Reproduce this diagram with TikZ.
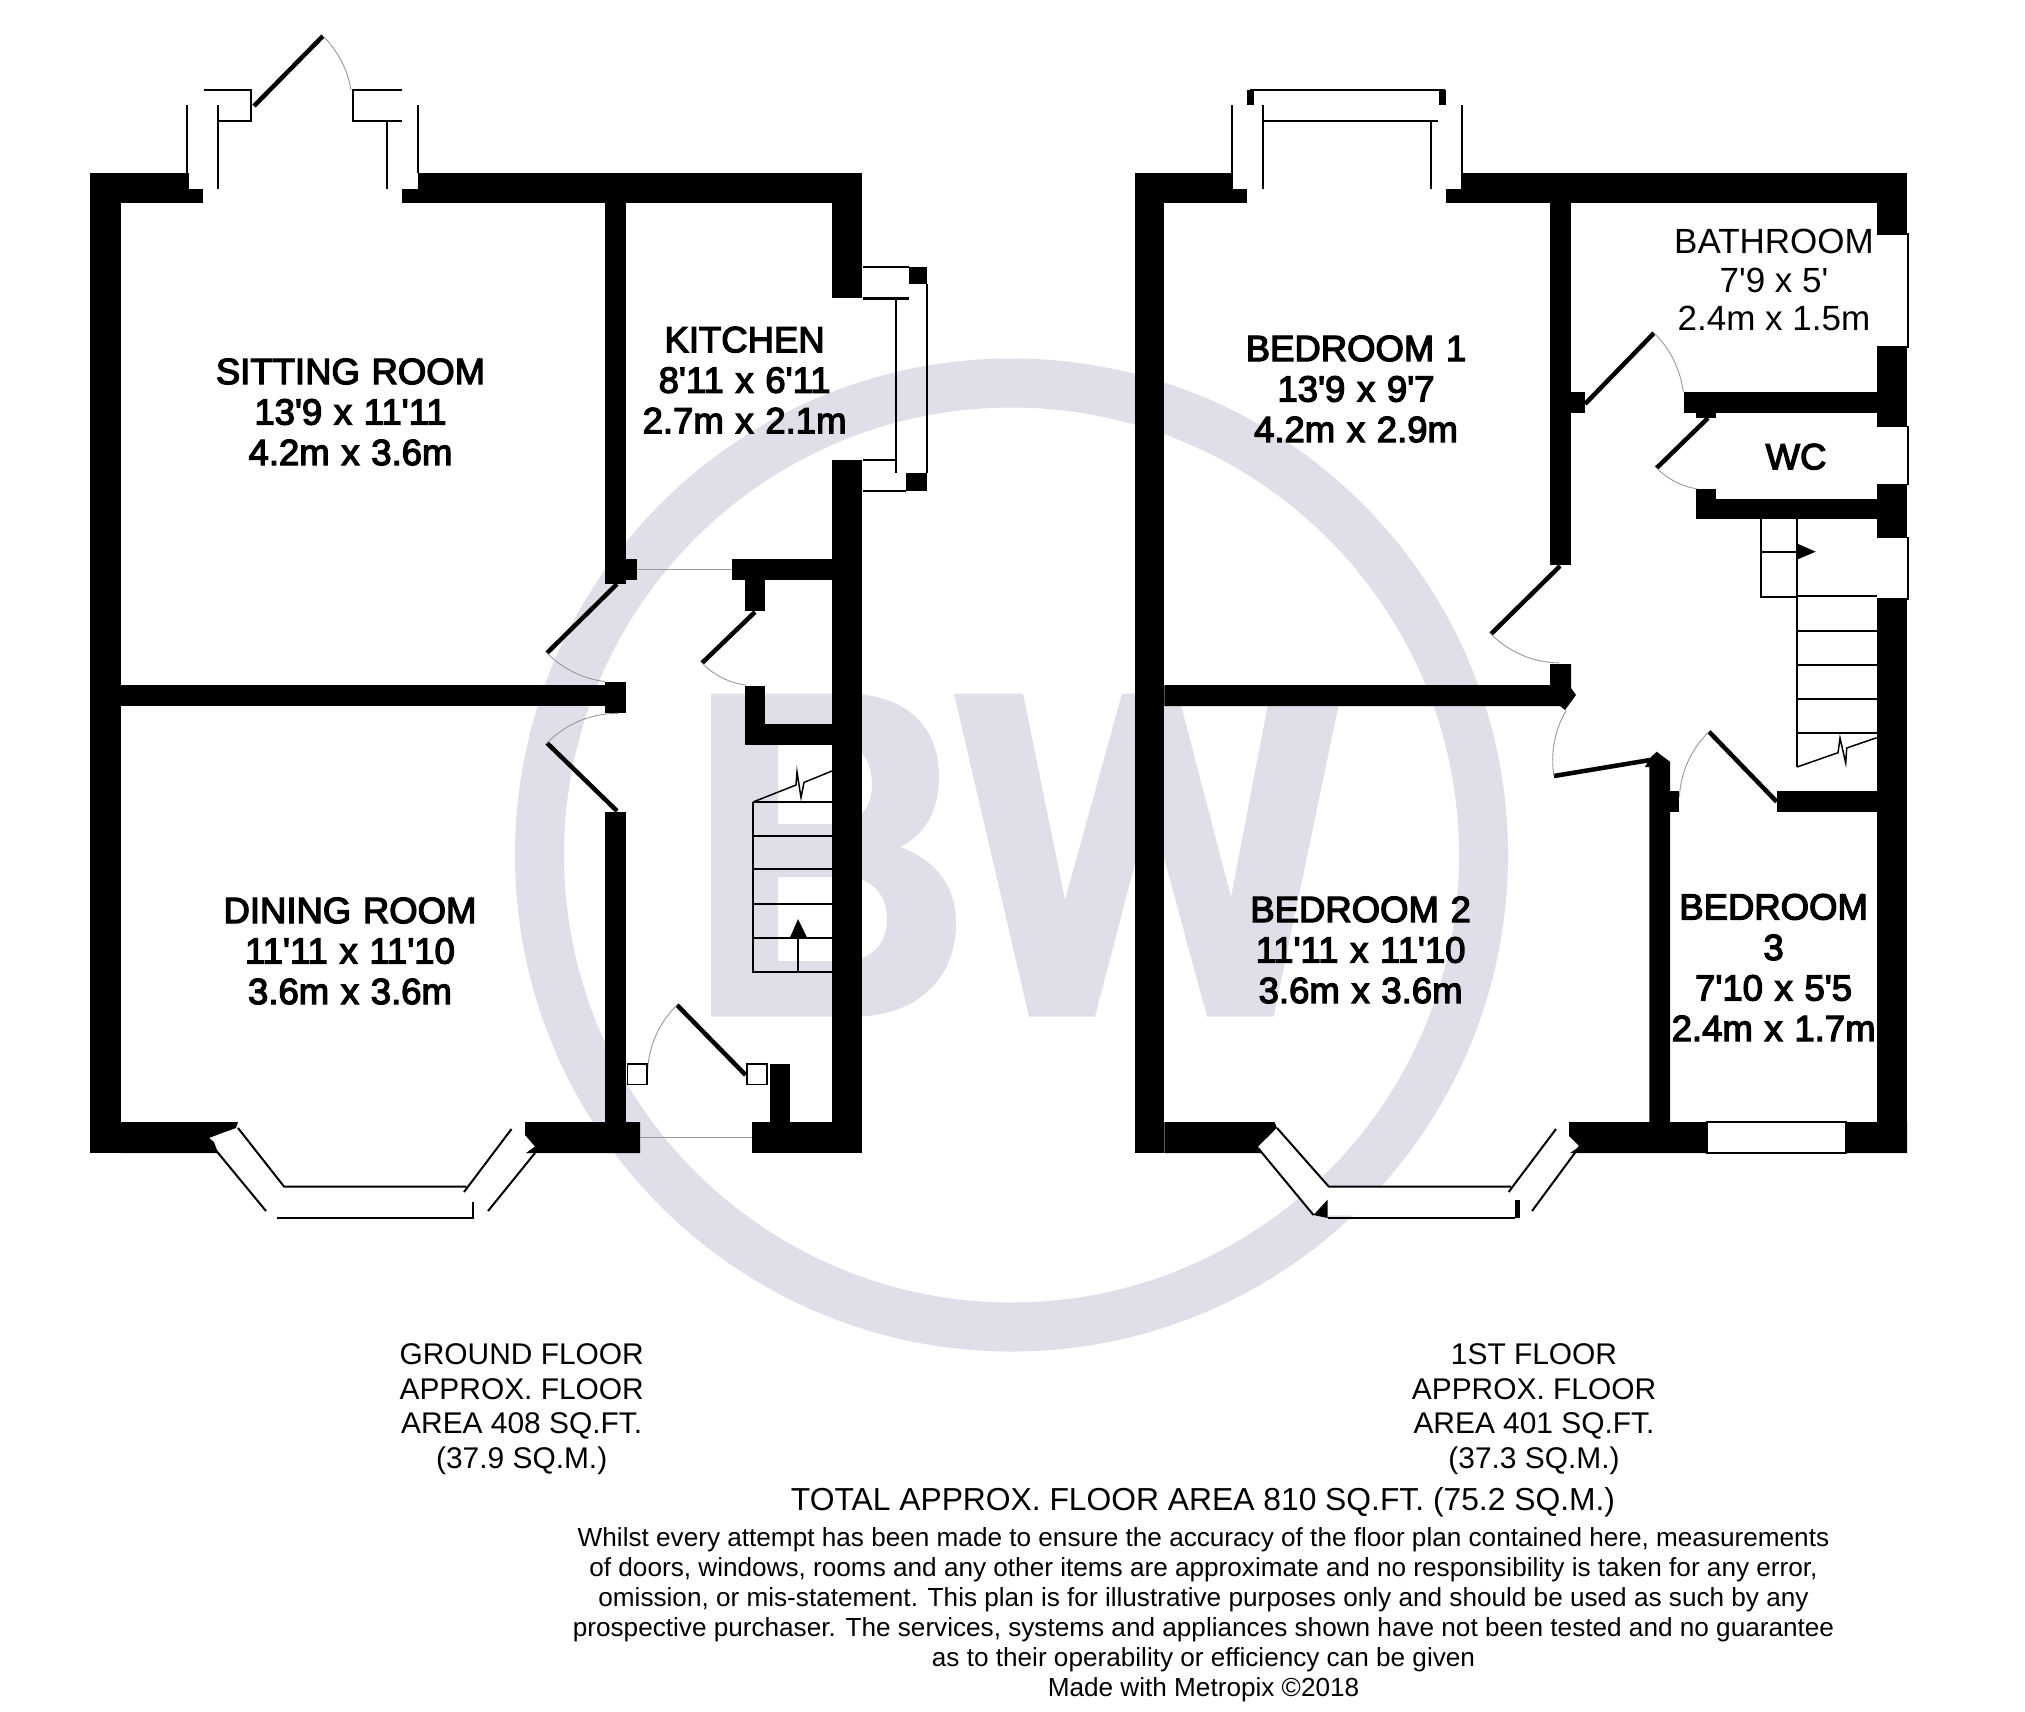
\documentclass[tikz,border=0pt]{standalone}
\usepackage{fontspec}
\usepackage{xcolor}
\usepackage{tikz}
\newfontfamily\planfont{Liberation Sans}
\newfontfamily\roomfont[FakeBold=3.5,WordSpace=1.15]{Liberation Sans}
\definecolor{markgrey}{HTML}{DEDFE9}
\definecolor{swinggrey}{HTML}{999999}
\tikzset{
	wall/.style={fill=black},
	leaf/.style={draw=black, line width=4.5pt},
	swing/.style={draw=swinggrey, line width=.9pt},
	thinline/.style={draw=black, line width=2pt},
	pane/.style={fill=white},
	room/.style={font=\roomfont\fontsize{36.5}{40.5}\selectfont, align=center, inner sep=0pt},
	plainroom/.style={font=\planfont\fontsize{35}{38.5}\selectfont, align=center, inner sep=0pt},
	floorlabel/.style={font=\planfont\fontsize{29.9}{34.7}\selectfont, align=center, inner sep=0pt},
	totallabel/.style={font=\planfont\fontsize{31.8}{34.7}\selectfont, align=center, inner sep=0pt},
	smallprint/.style={font=\planfont\fontsize{26.15}{29.9}\selectfont, align=center, inner sep=0pt}
}
\begin{document}
\begin{tikzpicture}[x=1pt, y=-1pt]
	\useasboundingbox (0,0) rectangle (2025,1711);
	\fill[white] (0,0) rectangle (2025,1711);
	% watermark
	\draw[markgrey, line width=49pt] (1011.5,855) circle (472);
	\fill[markgrey, even odd rule] (711,693.6) -- (845,693.6) .. controls (905,693.6) and (939,725) .. (939,777) .. controls (939,810) and (925,835) .. (900,847) .. controls (935,860) and (956,885) .. (956,923) .. controls (956,980) and (915,1016.5) .. (855,1016.5) -- (711,1016.5) -- cycle
		(778,745) -- (840,745) .. controls (862,745) and (872,762) .. (872,785) .. controls (872,808) and (858,824) .. (835,824) -- (778,824) -- cycle
		(778,877) -- (845,877) .. controls (872,877) and (887,895) .. (887,919) .. controls (887,945) and (870,961) .. (845,961) -- (778,961) -- cycle;
	\fill[markgrey] (954,693.6) -- (1023,693.6) -- (1065,900) -- (1122,693.6) -- (1178,693.6) -- (1231,897) -- (1270,693.6) -- (1341,693.6) -- (1273.6,1016.5) -- (1207,1016.5) -- (1150,806) -- (1095,1016.5) -- (1029,1016.5) -- cycle;

	% ground floor walls
	\fill[wall] (90,173) rectangle (189,203);
	\fill[wall] (189,189) rectangle (203,203);
	\fill[wall] (90,173) rectangle (121,1153);
	\fill[wall] (418,173) rectangle (862,203);
	\fill[wall] (402,189) rectangle (418,203);
	\fill[wall] (605,203) rectangle (626,584);
	\fill[wall] (626,559) rectangle (637,580);
	\fill[wall] (832,203) rectangle (862,298);
	\fill[wall] (832,460) rectangle (862,1153);
	\fill[wall] (732,559) rectangle (832,580);
	\fill[wall] (745,580) rectangle (765,611);
	\fill[wall] (121,685) rectangle (605,706);
	\fill[wall] (605,682) rectangle (626,713);
	\fill[wall] (605,812) rectangle (626,1122);
	\fill[wall] (745,686) rectangle (765,744.5);
	\fill[wall] (765,724) rectangle (832,744.5);
	\fill[wall] (752,1122) rectangle (862,1153);
	\fill[wall] (770,1064) rectangle (790,1122);
	\fill[wall] (121,1122) -- (238,1122) -- (236,1128) -- (222,1133) -- (209,1138) -- (214,1142) -- (218,1153) -- (121,1153) -- cycle;
	\fill[wall] (525,1122) -- (525,1135) -- (535,1146.5) -- (526,1153) -- (640,1153) -- (640,1122) -- cycle;

	% ground floor bay to the garden
	\draw[thinline] (187,105) -- (187,173);
	\draw[thinline] (218,105) -- (218,189);
	\draw[thinline] (204,90) -- (251,90) -- (251,121) -- (218,121);
	\draw[leaf] (254,106) -- (323,36);
	\draw[swing] (323,36) arc[start angle=-45.4, end angle=-9.3, radius=98.5];
	\draw[thinline] (402,90) -- (353,90) -- (353,121) -- (402,121);
	\draw[thinline] (387,121) -- (387,189);
	\draw[thinline] (418,105) -- (418,173);

	% kitchen window
	\draw[thinline] (863,267.3) -- (909,267.3);
	\draw[line width=3pt] (863,298) -- (909,298);
	\fill[wall] (909,267.3) rectangle (926.7,284);
	\draw[thinline] (896,298) -- (896,473);
	\draw[thinline] (926.7,284) -- (926.7,473);
	\draw[thinline] (863,460) -- (896,460);
	\draw[thinline] (863,490.7) -- (906,490.7);
	\fill[wall] (906,473) rectangle (926.7,490.7);

	% ground floor doors
	\draw[leaf] (617,584) -- (547,653);
	\draw[swing] (547,653) arc[start angle=135.4, end angle=97, radius=98.3];
	\draw[leaf] (617,811) -- (547,743);
	\draw[swing] (547,743) arc[start angle=-135.8, end angle=-89.4, radius=97.8];
	\draw[leaf] (755,612) -- (702,663);
	\draw[swing] (702,663) arc[start angle=136.1, end angle=97.2, radius=74];
	\draw[leaf] (745.6,1075) -- (677,1005);
	\draw[swing] (677,1005) arc[start angle=-134.4, end angle=-178.8, radius=98.3];
	\draw[swing] (637,569) -- (732,569);
	\draw[swing] (640,1137) -- (752,1137);
	\filldraw[fill=white, draw=black, line width=1.6pt] (627.5,1064) rectangle (647,1084.5);
	\filldraw[fill=white, draw=black, line width=1.6pt] (747,1064) rectangle (767,1084.5);

	% ground floor stairs
	\draw[thinline] (753,802) -- (753,972) -- (832,972);
	\draw[thinline] (753,802) -- (832,802);
	\draw[thinline] (753,835.5) -- (832,835.5);
	\draw[thinline] (753,869) -- (832,869);
	\draw[thinline] (753,903.7) -- (832,903.7);
	\draw[thinline] (753,937.5) -- (832,937.5);
	\draw[thinline] (798,937.5) -- (798,972);
	\fill[black] (798,919) -- (807,937.5) -- (790,937.5) -- cycle;
	\draw[black, line width=1.5pt] (753,802) -- (796,785) -- (797,772) -- (801,797.5) -- (804,782.4) -- (832,771);

	% ground floor front bay
	\draw[thinline] (214.5,1148.6) -- (266,1211);
	\draw[thinline] (238,1128) -- (284,1186.5) -- (466.5,1186.5);
	\draw[thinline] (277,1218) -- (473,1218) -- (473,1201.6);
	\draw[thinline] (464,1192) -- (511.5,1129);
	\draw[thinline] (488,1211) -- (535,1153);

	% first floor walls
	\fill[wall] (1134.6,173) rectangle (1232,203);
	\fill[wall] (1232,189) rectangle (1247,203);
	\fill[wall] (1134.6,173) rectangle (1164.4,1153);
	\fill[wall] (1461.5,173) rectangle (1907,203);
	\fill[wall] (1446,189) rectangle (1461.5,203);
	\fill[wall] (1876.6,173) rectangle (1907,1153);
	\fill[wall] (1550,203) rectangle (1571,565);
	\fill[wall] (1571,392) rectangle (1585,412.6);
	\fill[wall] (1683.7,392) rectangle (1876.6,412.6);
	\fill[wall] (1696,412.6) rectangle (1716,418);
	\fill[wall] (1696,499) rectangle (1876.6,519);
	\fill[wall] (1696,489) rectangle (1716,499);
	\fill[wall] (1164.4,685) -- (1550,685) -- (1550,664) -- (1571,664) -- (1571,688) -- (1576,695) -- (1565,710) -- (1560,706) -- (1164.4,706) -- cycle;
	\fill[wall] (1649.3,1122) -- (1649.3,767) -- (1645,767) -- (1650,758) -- (1656.7,751.7) -- (1665,758) -- (1670,761.7) -- (1670,1122) -- cycle;
	\fill[wall] (1670,791) rectangle (1679,812);
	\fill[wall] (1776.7,791) rectangle (1876.6,812);
	\fill[wall] (1164.4,1122) -- (1274.5,1122) -- (1277,1128) -- (1258,1146.5) -- (1263.6,1153) -- (1164.4,1153) -- cycle;
	\fill[wall] (1569,1122) -- (1569,1136) -- (1579.6,1146.5) -- (1570,1153) -- (1907,1153) -- (1907,1122) -- cycle;

	% first floor windows
	\filldraw[fill=white, draw=black, line width=1.6pt] (1877,234) -- (1908,234) -- (1908,347) -- (1877,347);
	\filldraw[fill=white, draw=black, line width=1.6pt] (1877,426.5) -- (1908,426.5) -- (1908,484.5) -- (1877,484.5);
	\filldraw[fill=white, draw=black, line width=1.6pt] (1877,537.5) -- (1908,537.5) -- (1908,599) -- (1877,599);
	\filldraw[fill=white, draw=black, line width=1.6pt] (1707,1122) rectangle (1846,1153);

	% first floor top bay
	\draw[thinline] (1232,105) -- (1232,189);
	\draw[thinline] (1462,105) -- (1462,189);
	\draw[thinline] (1262.5,105) -- (1262.5,189);
	\draw[thinline] (1431,121) -- (1431,189);
	\draw[thinline] (1262.5,121) -- (1438,121);
	\draw[thinline] (1250,90) -- (1445,90);
	\fill[wall] (1247,90) rectangle (1254,105);
	\fill[wall] (1439,90) rectangle (1446,105);

	% first floor doors
	\draw[leaf] (1585,404) -- (1654,333);
	\draw[swing] (1654,333) arc[start angle=-45.8, end angle=-6.9, radius=99];
	\draw[leaf] (1708,418) -- (1656.6,468);
	\draw[swing] (1656.6,468) arc[start angle=135.8, end angle=98.8, radius=71.7];
	\draw[leaf] (1560,566) -- (1491,634);
	\draw[swing] (1491,634) arc[start angle=135.4, end angle=90.6, radius=97];
	\draw[leaf] (1650,760) -- (1554,776);
	\draw[swing] (1554,776) arc[start angle=170.5, end angle=210.5, radius=97.5];
	\draw[leaf] (1776.7,801.7) -- (1709,731.7);
	\draw[swing] (1709,731.7) arc[start angle=-134, end angle=-177, radius=97.4];

	% first floor stairs
	\draw[thinline] (1761,519) -- (1761,596.7) -- (1797,596.7);
	\draw[thinline] (1797,519) -- (1797,767);
	\draw[thinline] (1761,551.7) -- (1797,551.7);
	\fill[black] (1815.7,551.7) -- (1796,560) -- (1796,543) -- cycle;
	\draw[thinline] (1797,596) -- (1876.6,596);
	\draw[thinline] (1797,630.7) -- (1876.6,630.7);
	\draw[thinline] (1797,665) -- (1876.6,665);
	\draw[thinline] (1797,699) -- (1876.6,699);
	\draw[thinline] (1797,733) -- (1876.6,733);
	\draw[black, line width=1.5pt] (1797,767) -- (1838,752.7) -- (1840,738) -- (1845.7,763) -- (1846.7,748) -- (1876.7,737.7);

	% first floor front bay
	\fill[pane] (1258,1148) -- (1277,1128) -- (1328.7,1186.5) -- (1511,1186.5) -- (1514.6,1218) -- (1313.5,1215) -- cycle;
	\draw[thinline] (1258,1148) -- (1313.5,1215);
	\draw[thinline] (1277,1128) -- (1328.7,1186.5) -- (1511,1186.5);
	\draw[thinline] (1327.6,1218) -- (1514.6,1218);
	\fill[wall] (1313.5,1215) -- (1327.6,1199.6) -- (1327.6,1218) -- cycle;
	\fill[wall] (1514.6,1199.6) rectangle (1519.5,1218);
	\draw[thinline] (1508.6,1192) -- (1556,1129);
	\draw[thinline] (1532,1211) -- (1579.6,1146.5);

	% labels
	\node[room] (sitting) at (350.5,412) {SITTING ROOM\\13'9 x 11'11\\4.2m x 3.6m};
	\node[room] (kitchen) at (744.6,380) {KITCHEN\\8'11 x 6'11\\2.7m x 2.1m};
	\node[room] (dining) at (350,951) {DINING ROOM\\11'11 x 11'10\\3.6m x 3.6m};
	\node[room] (bedone) at (1356,389) {BEDROOM 1\\13'9 x 9'7\\4.2m x 2.9m};
	\node[plainroom] (bath) at (1774,280) {BATHROOM\\7'9 x 5'\\2.4m x 1.5m};
	\node[room] (wc) at (1796,456.7) {WC};
	\node[room] (bedtwo) at (1360.6,950) {BEDROOM 2\\11'11 x 11'10\\3.6m x 3.6m};
	\node[room] (bedthree) at (1773.6,967.5) {BEDROOM\\3\\7'10 x 5'5\\2.4m x 1.7m};
	\node[floorlabel] (groundarea) at (521.7,1409) {GROUND FLOOR\\APPROX. FLOOR\\AREA 408 SQ.FT.\\(37.9 SQ.M.)};
	\node[floorlabel] (firstarea) at (1534,1409) {1ST FLOOR\\APPROX. FLOOR\\AREA 401 SQ.FT.\\(37.3 SQ.M.)};
	\node[totallabel] (total) at (1203,1502.5) {TOTAL APPROX. FLOOR AREA 810 SQ.FT. (75.2 SQ.M.)};
	\node[smallprint] (disclaimer) at (1203.5,1614.5) {Whilst every attempt has been made to ensure the accuracy of the floor plan contained here, measurements\\of doors, windows, rooms and any other items are approximate and no responsibility is taken for any error,\\omission, or mis-statement. This plan is for illustrative purposes only and should be used as such by any\\prospective purchaser. The services, systems and appliances shown have not been tested and no guarantee\\as to their operability or efficiency can be given\\Made with Metropix ©2018};
\end{tikzpicture}
\end{document}
